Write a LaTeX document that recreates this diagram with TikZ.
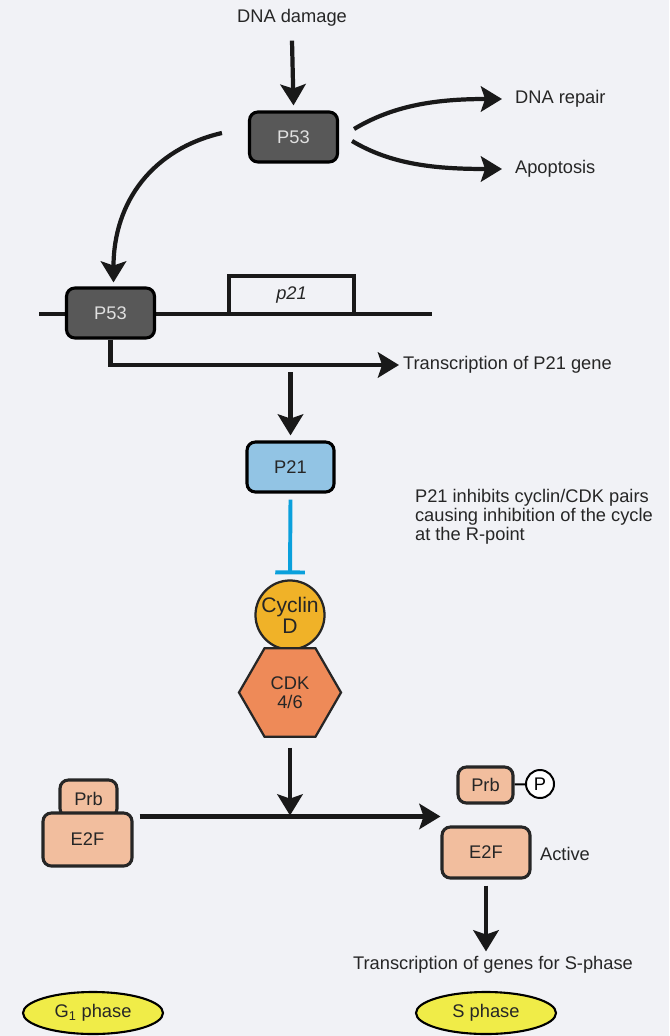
\documentclass[tikz,border=0pt]{standalone}
\usepackage{fontspec}
\setmainfont{Liberation Sans}
\usepackage{xcolor}
\usepackage{tikz}
\usetikzlibrary{arrows.meta, positioning, shapes.geometric, calc}
\definecolor{bgpaper}{RGB}{241, 242, 246}
\definecolor{p53gray}{RGB}{88, 88, 88}
\definecolor{p21blue}{RGB}{146, 196, 228}
\definecolor{inhibblue}{RGB}{10, 160, 220}
\definecolor{cyclinorange}{RGB}{240, 178, 40}
\definecolor{cdkorange}{RGB}{238, 138, 88}
\definecolor{peach}{RGB}{242, 190, 158}
\definecolor{phaseyellow}{RGB}{240, 236, 72}
\newcommand{\lblfont}{\fontsize{13}{13.5}\selectfont}

\begin{document}
\begin{tikzpicture}[
    x=0.025cm, y=-0.025cm,
    txt/.style={font=\lblfont, inner sep=2pt, text=black!85},
    darkbox/.style={draw=black, line width=2.2pt, fill=p53gray, rounded corners=6pt, minimum width=2.2cm, minimum height=1.25cm, font=\lblfont, text=white!88!black},
    bluebox/.style={draw=black, line width=2.2pt, fill=p21blue, rounded corners=6pt, minimum width=2.175cm, minimum height=1.25cm, font=\lblfont, text=black!85},
    peachbox/.style={draw=black!85, line width=2.2pt, fill=peach, rounded corners=6pt, font=\lblfont, text=black!85},
    gene/.style={minimum width=3.125cm, minimum height=0.95cm, font=\lblfont\itshape, text=black!85},
    cycl/.style={circle, draw=black!85, line width=1.6pt, fill=cyclinorange, minimum size=1.725cm, inner sep=0pt, align=center, font=\fontsize{15}{15}\selectfont, text=black!85},
    cdk/.style={regular polygon, regular polygon sides=6, draw=black!85, line width=1.6pt, fill=cdkorange, minimum size=2.55cm, inner sep=0pt, align=center, font=\lblfont, text=black!85},
    pcirc/.style={circle, draw=black, line width=1.4pt, fill=white, minimum size=0.7cm, inner sep=0pt, font=\lblfont},
    phase/.style={ellipse, draw=black, line width=1.5pt, fill=phaseyellow, minimum width=3.5cm, minimum height=1.05cm, font=\lblfont, text=black!85},
    arr/.style={-{Stealth[length=15pt, width=18pt, inset=3pt]}, line width=3pt, draw=black!90},
    inhib/.style={-{Bar[width=21pt]}, line width=2.8pt, draw=inhibblue},
    dna/.style={line width=3pt, draw=black!90}
]
    % Paper
    \fill[bgpaper] (0,0) rectangle (669,1036);
    \useasboundingbox (0,0) rectangle (669,1036);

    % Damage signal and P53
    \node[txt] (damage) at (292,18) {DNA damage};
    \node[darkbox] (p53a) at (293.5,137) {P53};
    \node[txt, anchor=west] (repair) at (512,99) {DNA repair};
    \node[txt, anchor=west] (apop) at (512,169) {Apoptosis};

    \draw[arr] ($(damage.south)+(0,11)$) -- ($(p53a.north)+(0,-5)$);
    \draw[arr] ($(p53a.east)+(15,-8)$) .. controls ($(p53a.east)+(55,-32)$) and ($(repair.west)+(-75,0)$) .. ($(repair.west)+(-10,0)$);
    \draw[arr] ($(p53a.east)+(13,4)$) .. controls ($(p53a.east)+(53,28)$) and ($(apop.west)+(-75,0)$) .. ($(apop.west)+(-10,0)$);

    % DNA strand with p21 gene
    \coordinate (dnaL) at (39,314);
    \coordinate (dnaR) at (432,314);
    \draw[dna] (dnaL) -- (dnaR);
    \node[gene] (p21gene) at (291.5,295) {p21};
    \draw[dna] (p21gene.south west) |- (p21gene.north) -| (p21gene.south east);
    \node[darkbox] (p53b) at (110.5,313) {P53};

    \draw[arr] ($(p53a.west)+(-26,-4)$) .. controls ($(p53a.west)+(-95,12)$) and ($(p53b.north)+(3,-85)$) .. ($(p53b.north)+(3,-4)$);

    % Transcription of p21
    \node[txt, anchor=west] (transc) at (400,365) {Transcription of P21 gene};
    \draw[arr] (p53b.south) |- ($(transc.west)+(-1,0)$);

    \node[bluebox] (p21) at (290.5,467) {P21};
    \coordinate (t21) at (290.5,372);
    \draw[arr] (t21) -- ($(p21.north)+(0,-5)$);

    % Inhibition of cyclin/CDK
    \node[cycl] (cyclin) at (290,615) {Cyclin\\D};
    \node[cdk] (cdk) at (290,692.5) {CDK\\4/6};
    \draw[inhib] ($(p21.south)+(0,6)$) -- ($(cyclin.north)+(0,-5)$);
    \node[txt, anchor=west, align=left] (info) at (412,517) {P21 inhibits cyclin/CDK pairs\\causing inhibition of the cycle\\at the R-point};

    % Prb / E2F release
    \node[peachbox, minimum width=1.425cm, minimum height=0.925cm] (prbL) at (88.5,798.5) {Prb};
    \node[peachbox, minimum width=2.225cm, minimum height=1.325cm] (e2fL) at (87.5,839.5) {E2F};
    \node[peachbox, minimum width=1.375cm, minimum height=0.9cm] (prbR) at (485.5,785) {Prb};
    \node[pcirc] (phos) at (540,784) {P};
    \draw[line width=1.4pt] (prbR) -- (phos);
    \node[peachbox, minimum width=2.2cm, minimum height=1.275cm] (e2fR) at (486,852.5) {E2F};
    \node[txt, anchor=west] (active) at (537,854) {Active};

    \coordinate (hzL) at ($(e2fL.north east)+(6,5)$);
    \draw[arr] (hzL) -- (hzL -| e2fR.west);
    \draw[arr] (cdk.south) ++(0,10) -- ($(cdk.south |- hzL)+(0,-1)$);

    % S-phase genes
    \node[txt] (genes) at (493,965) {Transcription of genes for S-phase};
    \draw[arr] (e2fR.south) ++(0,6) -- ($(e2fR.south |- genes.north)+(0,-2)$);

    % Phases
    \node[phase] (g1) at (93,1013) {G\textsubscript{1} phase};
    \node[phase] (sph) at (486,1013) {S phase};
\end{tikzpicture}
\end{document}
